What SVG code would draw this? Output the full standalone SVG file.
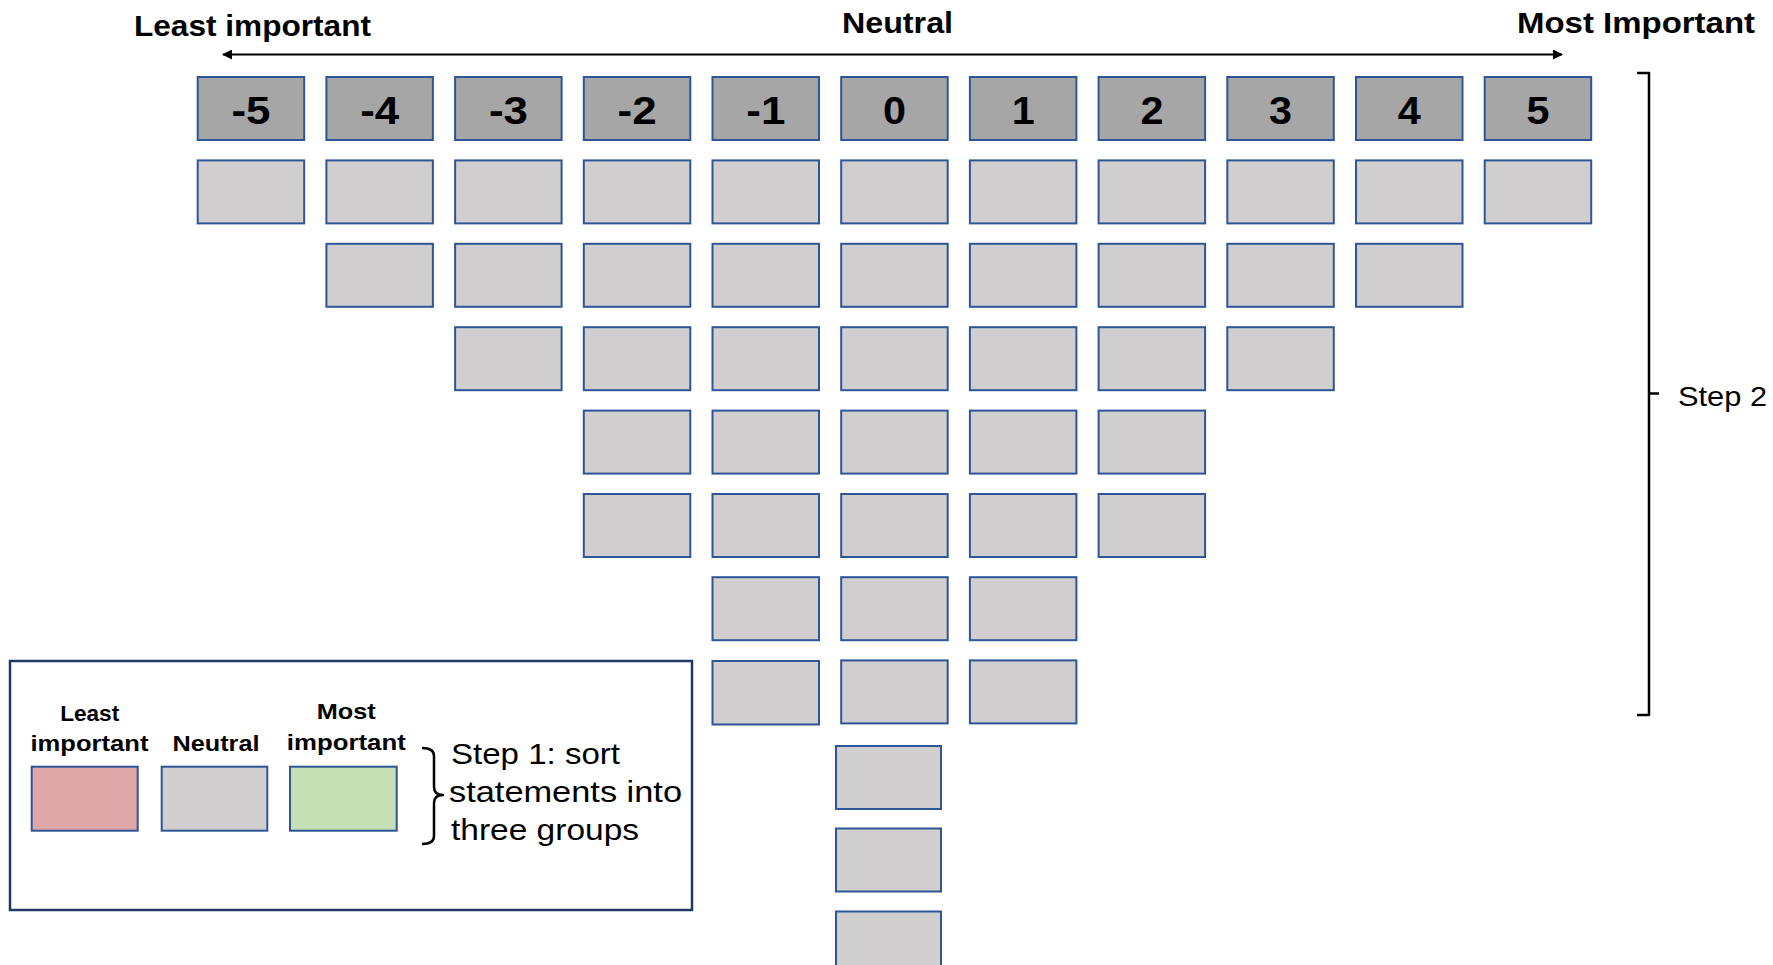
<svg xmlns="http://www.w3.org/2000/svg" width="1773" height="965" viewBox="0 0 1773 965">
<style>
.hd{fill:#a6a6a6;stroke:#2f5597;stroke-width:2}
.cell{fill:#d0cece;stroke:#2f5597;stroke-width:2}
.hdt{font-family:"Liberation Sans",Arial,sans-serif;font-weight:bold;font-size:38px;fill:#000;text-anchor:middle}
.lbl{font-family:"Liberation Sans",Arial,sans-serif;font-weight:bold;fill:#000}
.reg{font-family:"Liberation Sans",Arial,sans-serif;fill:#000}
.br{fill:none;stroke:#000;stroke-width:2.5;stroke-linejoin:round}
</style>
<defs>
<marker id="ah" viewBox="0 0 10 10" refX="9" refY="5" markerWidth="7" markerHeight="5" orient="auto-start-reverse" markerUnits="strokeWidth">
<path d="M0,0 L10,5 L0,10 z" fill="#000"/>
</marker>
</defs>
<rect width="1773" height="965" fill="#fff"/>

<g id="axis-labels">
<text class="lbl" x="134" y="36" font-size="28.8" textLength="237" lengthAdjust="spacingAndGlyphs">Least important</text>
<text class="lbl" x="842" y="33" font-size="28.8" textLength="111" lengthAdjust="spacingAndGlyphs">Neutral</text>
<text class="lbl" x="1517" y="33" font-size="28.8" textLength="238" lengthAdjust="spacingAndGlyphs">Most Important</text>
</g>

<g id="connectors">
<line x1="223" y1="54.5" x2="1562" y2="54.5" stroke="#000" stroke-width="2" marker-start="url(#ah)" marker-end="url(#ah)"/>
<path id="step2-bracket" class="br" d="M1637,73 L1649,73 L1649,715 L1637,715 M1649,393.5 L1659,393.5"/>
<path id="step1-bracket" class="br" d="M422,748 Q434,748 434,756 L434,787 Q434,795 443,795 Q434,795 434,803 L434,836 Q434,844 422,844"/>
</g>

<g id="headers">
<g id="h-m5"><rect class="hd" x="197.7" y="77" width="106.5" height="63"/><text class="hdt" x="251" y="124" textLength="39" lengthAdjust="spacingAndGlyphs">-5</text></g>
<g id="h-m4"><rect class="hd" x="326.4" y="77" width="106.5" height="63"/><text class="hdt" x="379.7" y="124" textLength="39" lengthAdjust="spacingAndGlyphs">-4</text></g>
<g id="h-m3"><rect class="hd" x="455.1" y="77" width="106.5" height="63"/><text class="hdt" x="508.4" y="124" textLength="39" lengthAdjust="spacingAndGlyphs">-3</text></g>
<g id="h-m2"><rect class="hd" x="583.8" y="77" width="106.5" height="63"/><text class="hdt" x="637.1" y="124" textLength="39" lengthAdjust="spacingAndGlyphs">-2</text></g>
<g id="h-m1"><rect class="hd" x="712.5" y="77" width="106.5" height="63"/><text class="hdt" x="765.8" y="124" textLength="39" lengthAdjust="spacingAndGlyphs">-1</text></g>
<g id="h-0"><rect class="hd" x="841.2" y="77" width="106.5" height="63"/><text class="hdt" x="894.5" y="124" textLength="23" lengthAdjust="spacingAndGlyphs">0</text></g>
<g id="h-1"><rect class="hd" x="969.9" y="77" width="106.5" height="63"/><text class="hdt" x="1023.2" y="124" textLength="23" lengthAdjust="spacingAndGlyphs">1</text></g>
<g id="h-2"><rect class="hd" x="1098.6" y="77" width="106.5" height="63"/><text class="hdt" x="1151.9" y="124" textLength="23" lengthAdjust="spacingAndGlyphs">2</text></g>
<g id="h-3"><rect class="hd" x="1227.3" y="77" width="106.5" height="63"/><text class="hdt" x="1280.6" y="124" textLength="23" lengthAdjust="spacingAndGlyphs">3</text></g>
<g id="h-4"><rect class="hd" x="1356" y="77" width="106.5" height="63"/><text class="hdt" x="1409.3" y="124" textLength="23" lengthAdjust="spacingAndGlyphs">4</text></g>
<g id="h-5"><rect class="hd" x="1484.7" y="77" width="106.5" height="63"/><text class="hdt" x="1538" y="124" textLength="23" lengthAdjust="spacingAndGlyphs">5</text></g>
</g>

<g id="grid">
<g id="row1">
<rect id="c1-0" class="cell" x="197.7" y="160.4" width="106.5" height="63"/>
<rect id="c1-1" class="cell" x="326.4" y="160.4" width="106.5" height="63"/>
<rect id="c1-2" class="cell" x="455.1" y="160.4" width="106.5" height="63"/>
<rect id="c1-3" class="cell" x="583.8" y="160.4" width="106.5" height="63"/>
<rect id="c1-4" class="cell" x="712.5" y="160.4" width="106.5" height="63"/>
<rect id="c1-5" class="cell" x="841.2" y="160.4" width="106.5" height="63"/>
<rect id="c1-6" class="cell" x="969.9" y="160.4" width="106.5" height="63"/>
<rect id="c1-7" class="cell" x="1098.6" y="160.4" width="106.5" height="63"/>
<rect id="c1-8" class="cell" x="1227.3" y="160.4" width="106.5" height="63"/>
<rect id="c1-9" class="cell" x="1356" y="160.4" width="106.5" height="63"/>
<rect id="c1-10" class="cell" x="1484.7" y="160.4" width="106.5" height="63"/>
</g>
<g id="row2">
<rect id="c2-1" class="cell" x="326.4" y="243.8" width="106.5" height="63"/>
<rect id="c2-2" class="cell" x="455.1" y="243.8" width="106.5" height="63"/>
<rect id="c2-3" class="cell" x="583.8" y="243.8" width="106.5" height="63"/>
<rect id="c2-4" class="cell" x="712.5" y="243.8" width="106.5" height="63"/>
<rect id="c2-5" class="cell" x="841.2" y="243.8" width="106.5" height="63"/>
<rect id="c2-6" class="cell" x="969.9" y="243.8" width="106.5" height="63"/>
<rect id="c2-7" class="cell" x="1098.6" y="243.8" width="106.5" height="63"/>
<rect id="c2-8" class="cell" x="1227.3" y="243.8" width="106.5" height="63"/>
<rect id="c2-9" class="cell" x="1356" y="243.8" width="106.5" height="63"/>
</g>
<g id="row3">
<rect id="c3-2" class="cell" x="455.1" y="327.2" width="106.5" height="63"/>
<rect id="c3-3" class="cell" x="583.8" y="327.2" width="106.5" height="63"/>
<rect id="c3-4" class="cell" x="712.5" y="327.2" width="106.5" height="63"/>
<rect id="c3-5" class="cell" x="841.2" y="327.2" width="106.5" height="63"/>
<rect id="c3-6" class="cell" x="969.9" y="327.2" width="106.5" height="63"/>
<rect id="c3-7" class="cell" x="1098.6" y="327.2" width="106.5" height="63"/>
<rect id="c3-8" class="cell" x="1227.3" y="327.2" width="106.5" height="63"/>
</g>
<g id="row4">
<rect id="c4-3" class="cell" x="583.8" y="410.6" width="106.5" height="63"/>
<rect id="c4-4" class="cell" x="712.5" y="410.6" width="106.5" height="63"/>
<rect id="c4-5" class="cell" x="841.2" y="410.6" width="106.5" height="63"/>
<rect id="c4-6" class="cell" x="969.9" y="410.6" width="106.5" height="63"/>
<rect id="c4-7" class="cell" x="1098.6" y="410.6" width="106.5" height="63"/>
</g>
<g id="row5">
<rect id="c5-3" class="cell" x="583.8" y="494" width="106.5" height="63"/>
<rect id="c5-4" class="cell" x="712.5" y="494" width="106.5" height="63"/>
<rect id="c5-5" class="cell" x="841.2" y="494" width="106.5" height="63"/>
<rect id="c5-6" class="cell" x="969.9" y="494" width="106.5" height="63"/>
<rect id="c5-7" class="cell" x="1098.6" y="494" width="106.5" height="63"/>
</g>
<g id="row6">
<rect id="c6-4" class="cell" x="712.5" y="577.2" width="106.5" height="63"/>
<rect id="c6-5" class="cell" x="841.2" y="577.2" width="106.5" height="63"/>
<rect id="c6-6" class="cell" x="969.9" y="577.2" width="106.5" height="63"/>
</g>
<g id="row7">
<rect id="c7-4" class="cell" x="712.5" y="661" width="106.5" height="63.5"/>
<rect id="c7-5" class="cell" x="841.2" y="660.4" width="106.5" height="63"/>
<rect id="c7-6" class="cell" x="969.9" y="660.4" width="106.5" height="63"/>
</g>
<g id="row8-10">
<rect id="c8-5" class="cell" x="836" y="746" width="105" height="63"/>
<rect id="c9-5" class="cell" x="836" y="828.5" width="105" height="63"/>
<rect id="c10-5" class="cell" x="836" y="911.5" width="105" height="63"/>
</g>
</g>

<g id="step2-label">
<text class="reg" x="1678" y="406" font-size="28" textLength="89" lengthAdjust="spacingAndGlyphs">Step 2</text>
</g>

<g id="legend">
<rect id="legend-frame" x="10" y="661" width="682" height="249" fill="none" stroke="#1f3864" stroke-width="2.5"/>
<g id="legend-least">
<text class="lbl" x="89.7" y="720.7" font-size="22.4" text-anchor="middle" textLength="59" lengthAdjust="spacingAndGlyphs">Least</text>
<text class="lbl" x="89.5" y="750.5" font-size="22.4" text-anchor="middle" textLength="118" lengthAdjust="spacingAndGlyphs">important</text>
<rect x="31.7" y="766.7" width="106" height="64" fill="#dfa7a8" stroke="#2f5597" stroke-width="2"/>
</g>
<g id="legend-neutral">
<text class="lbl" x="216" y="750.5" font-size="22.4" text-anchor="middle" textLength="87" lengthAdjust="spacingAndGlyphs">Neutral</text>
<rect x="161.7" y="766.7" width="105.6" height="64" fill="#d0cece" stroke="#2f5597" stroke-width="2"/>
</g>
<g id="legend-most">
<text class="lbl" x="346.3" y="719.3" font-size="22.4" text-anchor="middle" textLength="59" lengthAdjust="spacingAndGlyphs">Most</text>
<text class="lbl" x="346.3" y="750" font-size="22.4" text-anchor="middle" textLength="119" lengthAdjust="spacingAndGlyphs">important</text>
<rect x="290" y="766.7" width="106.7" height="64" fill="#c5e0b4" stroke="#2f5597" stroke-width="2"/>
</g>
<g id="step1-label">
<text class="reg" x="451" y="764" font-size="30" textLength="169" lengthAdjust="spacingAndGlyphs">Step 1: sort</text>
<text class="reg" x="449" y="802" font-size="30" textLength="233" lengthAdjust="spacingAndGlyphs">statements into</text>
<text class="reg" x="451" y="840" font-size="30" textLength="188" lengthAdjust="spacingAndGlyphs">three groups</text>
</g>
</g>
</svg>
